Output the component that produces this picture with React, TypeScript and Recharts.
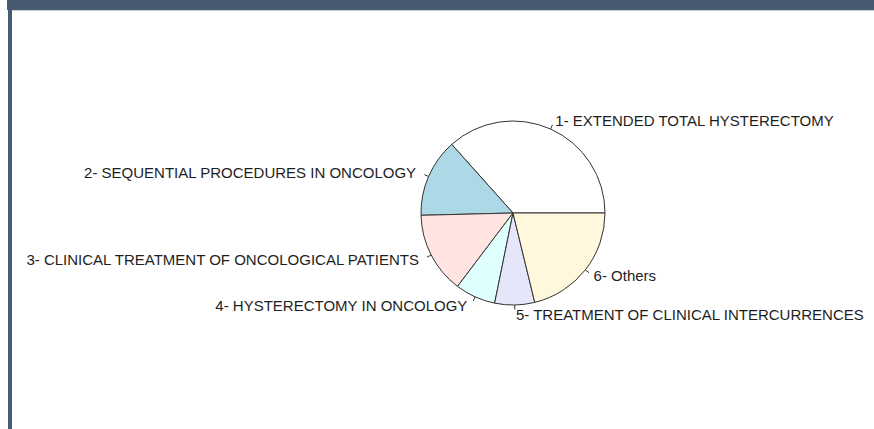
import React from 'react';
import { PieChart, Pie, Cell } from 'recharts';

// slice labels, read clockwise from 3 o'clock going counterclockwise (R pie order)
const labels = [
  '1- EXTENDED TOTAL HYSTERECTOMY',
  '2- SEQUENTIAL PROCEDURES IN ONCOLOGY',
  '3- CLINICAL TREATMENT OF ONCOLOGICAL PATIENTS',
  '4- HYSTERECTOMY IN ONCOLOGY',
  '5- TREATMENT OF CLINICAL INTERCURRENCES',
  '6- Others',
];

// share of each slice, in percent (estimated from the angles)
const shares = [36.6, 13.8, 14.3, 7.1, 7.0, 21.2];

// R's default pie palette
const colors = ['#ffffff', '#add8e6', '#ffe4e1', '#e0ffff', '#e6e6fa', '#fff8dc'];

const data = labels.map((name, i) => ({ name, value: shares[i] }));

const RAD = Math.PI / 180;

const renderLabel = (props: any) => {
  const { cx, cy, midAngle, outerRadius, index } = props;
  const cos = Math.cos(-midAngle * RAD);
  const sin = Math.sin(-midAngle * RAD);
  const x1 = cx + outerRadius * cos;
  const y1 = cy + outerRadius * sin;
  const x2 = cx + outerRadius * 1.05 * cos;
  const y2 = cy + outerRadius * 1.05 * sin;
  const right = cos >= 0;
  const tx = cx + outerRadius * 1.1 * cos + (right ? 1 : -4);
  const ty = cy + outerRadius * 1.1 * sin;
  return (
    <g key={`lbl-${index}`}>
      <line x1={x1} y1={y1} x2={x2} y2={y2} stroke="#333" strokeWidth={1} />
      <text
        x={tx}
        y={ty}
        textAnchor={right ? 'start' : 'end'}
        dominantBaseline="central"
        fontFamily="'Liberation Sans', Arial, sans-serif"
        fontSize={15}
        fill="#1e1e1e"
      >
        {labels[index]}
      </text>
    </g>
  );
};

export default function App() {
  return (
    <div style={{ position: 'absolute', left: 0, top: 0, width: 874, height: 429, background: '#fff', overflow: 'hidden' }}>
      {/* frame bars */}
      <div style={{ position: 'absolute', left: 7, top: 0, width: 867, height: 10, background: '#485a70' }} />
      <div style={{ position: 'absolute', left: 12, top: 10, width: 862, height: 1, background: '#c8d0dc' }} />
      <div style={{ position: 'absolute', left: 8, top: 0, width: 4, height: 429, background: '#485a70' }} />
      <div style={{ position: 'absolute', left: 0, top: 0 }}>
        <PieChart width={874} height={429} margin={{ top: 0, right: 0, bottom: 0, left: 0 }}>
          <Pie
            data={data}
            dataKey="value"
            nameKey="name"
            cx={513}
            cy={213}
            outerRadius={92}
            startAngle={0}
            endAngle={360}
            stroke="#333"
            strokeWidth={1}
            label={renderLabel}
            labelLine={false}
            isAnimationActive={false}
          >
            {data.map((d, i) => (
              <Cell key={d.name} fill={colors[i]} />
            ))}
          </Pie>
        </PieChart>
      </div>
    </div>
  );
}
